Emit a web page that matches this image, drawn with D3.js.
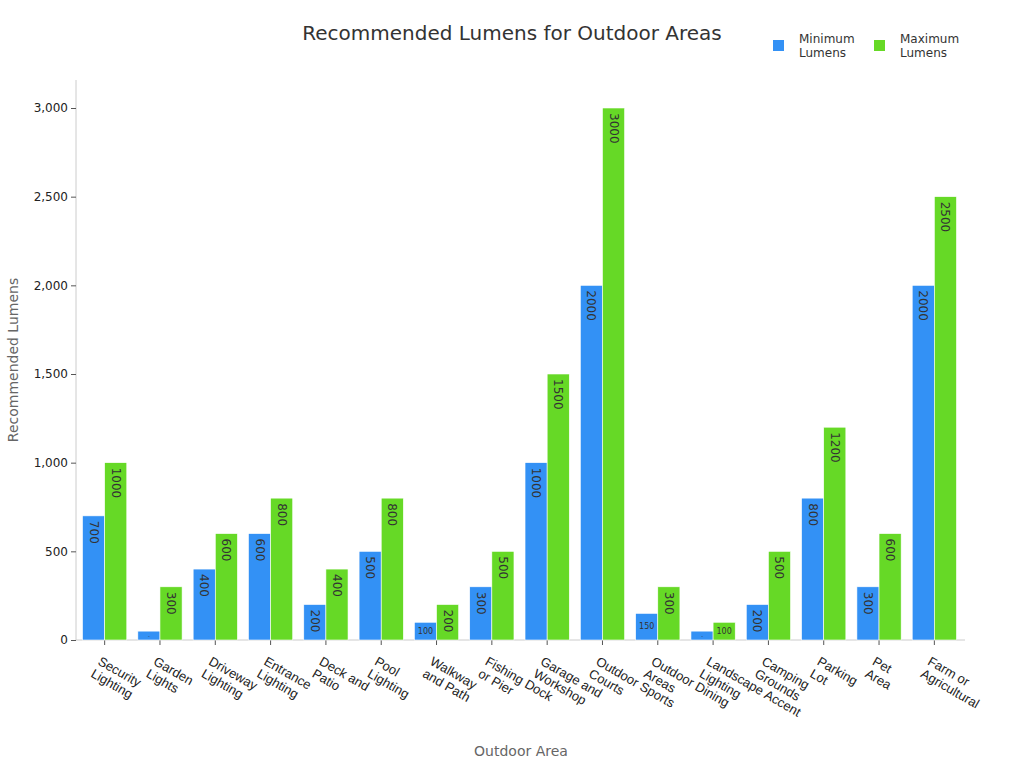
<!DOCTYPE html>
<html><head><meta charset="utf-8">
<script src="https://cdn.jsdelivr.net/npm/d3@7"></script>
<style>body{margin:0;background:#fff;font-family:"DejaVu Sans",sans-serif}</style>
</head><body>
<svg id="chart" width="1024" height="768"></svg>
<script>
var categories = [["Security","Lighting"],["Garden","Lights"],["Driveway","Lighting"],["Entrance","Lighting"],
  ["Deck and","Patio"],["Pool","Lighting"],["Walkway","and Path"],["Fishing Dock","or Pier"],
  ["Garage and","Workshop"],["Outdoor Sports","Courts"],["Outdoor Dining","Areas"],["Landscape Accent","Lighting"],
  ["Camping","Grounds"],["Parking","Lot"],["Pet","Area"],["Farm or","Agricultural"]];
var minLumens = [700,50,400,600,200,500,100,300,1000,2000,150,50,200,800,300,2000];
var maxLumens = [1000,300,600,800,400,800,200,500,1500,3000,300,100,500,1200,600,2500];
var seriesNames = [["Minimum","Lumens"],["Maximum","Lumens"]];
var colors = ["#3391f5","#66d926"];
var yTicks = [0,500,1000,1500,2000,2500,3000];

var svg = d3.select("#chart");
var m = {l:77, r:962, t:80, b:640};
var x = d3.scaleBand().domain(d3.range(categories.length)).range([m.l, m.r]).paddingInner(0.2).paddingOuter(0.1);
var y = d3.scaleLinear().domain([0,3000]).range([m.b, 108]);
var sub = d3.scaleBand().domain([0,1]).range([0, x.bandwidth()]);

var yAxis = svg.append("g").attr("transform","translate(" + (m.l-1) + ",0)")
  .call(d3.axisLeft(y).tickValues(yTicks).tickSize(5).tickSizeOuter(0));
yAxis.select(".domain").attr("stroke","#ccc").attr("d","M0," + m.t + "V" + m.b);
yAxis.selectAll(".tick line").attr("stroke","#555");
yAxis.selectAll("text").attr("font-size",12).attr("fill","#222").attr("font-family","DejaVu Sans");

var xAxis = svg.append("g").attr("transform","translate(0," + m.b + ")")
  .call(d3.axisBottom(x).tickSize(5).tickSizeOuter(0).tickFormat(""));
xAxis.select(".domain").attr("stroke","#ccc").attr("d","M" + (m.l-1) + ",0H" + (m.r+3));
xAxis.selectAll(".tick line").attr("stroke","#555");
xAxis.selectAll(".tick").each(function(d){
  var t = d3.select(this).append("text").attr("transform","translate(-3,16) rotate(30)")
    .attr("text-anchor","start").attr("font-size",13).attr("fill","#222");
  categories[d].forEach(function(s,i){
    t.append("tspan").attr("x", i===0?0:-8*(categories[d][0].length>8?0:0)).attr("dy", i===0?"0.7em":"1.1em").text(s);
  });
});

var data = [minLumens, maxLumens];
data.forEach(function(vals, si){
  var g = svg.append("g");
  vals.forEach(function(v, i){
    var bx = x(i) + sub(si), bw = sub.bandwidth();
    g.append("rect").attr("x", bx).attr("y", y(v)).attr("width", bw).attr("height", y(0)-y(v))
      .attr("fill", colors[si]).attr("stroke","#fff").attr("stroke-width",0.6);
    var h = y(0) - y(v);
    if (h > 35) {
      g.append("text").attr("transform","translate(" + (bx+bw/2) + "," + (y(v)+5) + ") rotate(90)")
        .attr("dominant-baseline","central").attr("font-size",12).attr("fill","#333").text(v);
    } else {
      g.append("text").attr("x", bx+bw/2).attr("y", y(v)+h/2).attr("text-anchor","middle")
        .attr("dominant-baseline","central").attr("font-size", h>14?8:5).attr("fill","#333").text(h>14?v:"-");
    }
  });
});

svg.append("text").attr("x",512).attr("y",40).attr("text-anchor","middle").attr("font-size",20).attr("fill","#333")
  .text("Recommended Lumens for Outdoor Areas");
svg.append("text").attr("x",521).attr("y",756).attr("text-anchor","middle").attr("font-size",14).attr("fill","#666").text("Outdoor Area");
svg.append("text").attr("transform","translate(18,360) rotate(-90)").attr("text-anchor","middle")
  .attr("font-size",14).attr("fill","#666").text("Recommended Lumens");

var lg = svg.append("g");
seriesNames.forEach(function(n, i){
  var lx = 773 + i*101;
  lg.append("rect").attr("x", lx).attr("y",40).attr("width",11).attr("height",11).attr("fill",colors[i]);
  var t = lg.append("text").attr("x", lx+26).attr("y",43).attr("font-size",12).attr("fill","#333");
  n.forEach(function(s,j){ t.append("tspan").attr("x", lx+26).attr("dy", j?"1.2em":0).text(s); });
});
</script>
</body></html>
